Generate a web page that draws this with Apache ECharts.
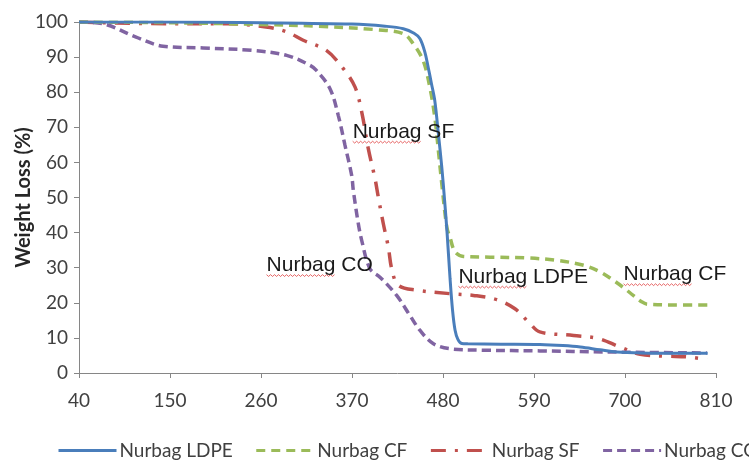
<!DOCTYPE html>
<html>
<head>
<meta charset="utf-8">
<script src="https://cdn.jsdelivr.net/npm/echarts@6/dist/echarts.min.js"></script>
<style>
html,body{margin:0;padding:0;background:#fff;}
#chart{width:749px;height:464px;}
</style>
</head>
<body>
<div id="chart"></div>
<script>
// Temperature (x) and weight (%) values
var ldpeT = [40,150,260,370,410,432,445,452,458,462,466,470,474.4,478.5,482,485,488.5,491.5,494.6,498,502.7,510,550,597,625,646,670,690,720,760,800];
var ldpeW = [100,100,99.8,99.4,98.8,98.1,96.8,95.3,91.5,87.2,82.5,77.7,68.2,58.7,49,39.7,27,18,12.2,9.6,8.4,8.3,8.2,8.1,7.8,7.4,6.6,6.0,5.7,5.6,5.6];

var cfT = [40,150,260,330,400,432,444,456,464,470,474.4,478.5,484.6,488.6,494.6,504.7,537,580,617,650,670,686,700,710,720,727,760,800];
var cfW = [100,99.8,99.3,98.8,97.8,96.7,93.8,89,81.5,73,63.4,54,41.6,38.5,34.5,33.2,33.0,32.8,32.1,30.7,28.8,26.4,24,22.1,20.3,19.6,19.4,19.4];

var sfT = [40,150,220,266,290,311,339,359.5,373.6,381.7,389.7,397.8,401.8,407.8,413.9,418,426,448,488.6,516.7,545,567,585,597,637.8,668,694,718.5,750.7,775,799];
var sfW = [100,99.5,99.5,98.6,97.3,94.8,91.9,86.7,81.5,74.4,63.9,55.4,50.1,42.6,35.9,29.7,25,23.6,22.6,22.1,20.9,18.3,14.1,11.7,10.7,9.8,7.4,5.3,4.8,4.6,3.8];

var coT = [40,69,109,141.6,190,250,291,319,327,343.4,353.4,361.5,369.6,371.6,377.6,381.7,391.7,403.8,424,440,452,468,488.6,528.6,597,677,799];
var coW = [100,99.5,95.7,93.1,92.6,91.9,90.5,87.7,86.2,81,73.4,64.9,56.3,52,42.6,37.8,29.7,27.3,22.1,16.4,12.2,8.4,6.9,6.5,6.3,6.0,5.7];

var seriesNames = ['Nurbag LDPE','Nurbag CF','Nurbag SF','Nurbag CO'];
var xTicks = {min:40, max:810, interval:110};
var yTicks = {min:0, max:100, interval:10};

// Annotation labels: text, temperature, weight (left edge / vertical centre)
var noteText = ['Nurbag SF','Nurbag CO','Nurbag LDPE','Nurbag CF'];
var noteT = [370.8, 266.7, 498.6, 698.3];
var noteW = [68.7, 30.7, 27.4, 28.1];

function pairs(t, w){ return t.map(function(v,i){ return [v, w[i]]; }); }

var chart = echarts.init(document.getElementById('chart'), null, {renderer:'canvas'});
var labelColor = '#404040';
var axisColor = '#868686';
var colors = ['#4A7EBB','#9BBB59','#C0504D','#8064A2'];

var option = {
  animation:false,
  backgroundColor:'#ffffff',
  grid:{left:79, right:33, top:22, bottom:91},
  legend:{
    left:57, top:441, padding:0, width:1000,
    itemWidth:58, itemHeight:10, itemGap:22,
    itemStyle:{opacity:0},
    lineStyle:{width:3},
    textStyle:{fontFamily:'Lato', fontSize:19, color:labelColor, padding:[0,0,0,-2], overflow:'none'},
    data:seriesNames
  },
  xAxis:{
    type:'value', min:xTicks.min, max:xTicks.max, interval:xTicks.interval,
    axisLine:{lineStyle:{color:axisColor, width:1}},
    axisTick:{show:true, length:5, lineStyle:{color:axisColor}},
    splitLine:{show:false},
    axisLabel:{fontFamily:'Lato', fontSize:19, color:labelColor, margin:18}
  },
  yAxis:{
    type:'value', min:yTicks.min, max:yTicks.max, interval:yTicks.interval,
    name:'Weight Loss (%)', nameLocation:'middle', nameGap:45, nameMoveOverlap:false,
    nameTextStyle:{fontFamily:'Lato', fontWeight:'bold', fontSize:20, color:'#262626'},
    axisLine:{show:true, lineStyle:{color:axisColor, width:1}},
    axisTick:{show:true, length:5, lineStyle:{color:axisColor}},
    splitLine:{show:false},
    axisLabel:{fontFamily:'Lato', fontSize:19, color:labelColor, margin:11}
  },
  series:[
    {name:seriesNames[0], type:'line', data:pairs(ldpeT, ldpeW), showSymbol:false, symbol:'none',
     smooth:0.35, z:4,
     lineStyle:{color:colors[0], width:3, type:'solid'}, itemStyle:{color:colors[0]}},
    {name:seriesNames[1], type:'line', data:pairs(cfT, cfW), showSymbol:false, symbol:'none',
     smooth:0.35, z:3,
     lineStyle:{color:colors[1], width:3.5, type:[9,6]}, itemStyle:{color:colors[1]}},
    {name:seriesNames[2], type:'line', data:pairs(sfT, sfW), showSymbol:false, symbol:'none',
     smooth:0.35, z:2,
     lineStyle:{color:colors[2], width:3.5, type:[15,9,3,9]}, itemStyle:{color:colors[2]}},
    {name:seriesNames[3], type:'line', data:pairs(coT, coW), showSymbol:false, symbol:'none',
     smooth:0.35, z:2,
     lineStyle:{color:colors[3], width:3.5, type:[9,5]}, itemStyle:{color:colors[3]}}
  ]
};
chart.setOption(option);

// annotation texts with a spell-check style squiggle under "Nurbag"
var noteFont = '21px "Liberation Sans", Arial, sans-serif';
var ctx = document.createElement('canvas').getContext('2d');
ctx.font = noteFont;
var wordW = ctx.measureText('Nurbag').width;
var graphics = [];
noteText.forEach(function(txt,i){
  var p = chart.convertToPixel({gridIndex:0}, [noteT[i], noteW[i]]);
  graphics.push({
    type:'text', x:p[0], y:p[1], z:10,
    style:{text:txt, font:noteFont, fill:'#1a1a1a', textAlign:'left', textVerticalAlign:'middle'}
  });
  var pts = [], step = 2, y0 = p[1] + 10;
  for (var k = 0; k * step <= wordW; k++) {
    pts.push([p[0] + k * step, y0 + (k % 2 ? 1.2 : -0.6)]);
  }
  graphics.push({type:'polyline', z:9, shape:{points:pts},
    style:{stroke:'#e04040', lineWidth:0.8, fill:null}});
});
chart.setOption({graphic:graphics});
</script>
</body>
</html>
